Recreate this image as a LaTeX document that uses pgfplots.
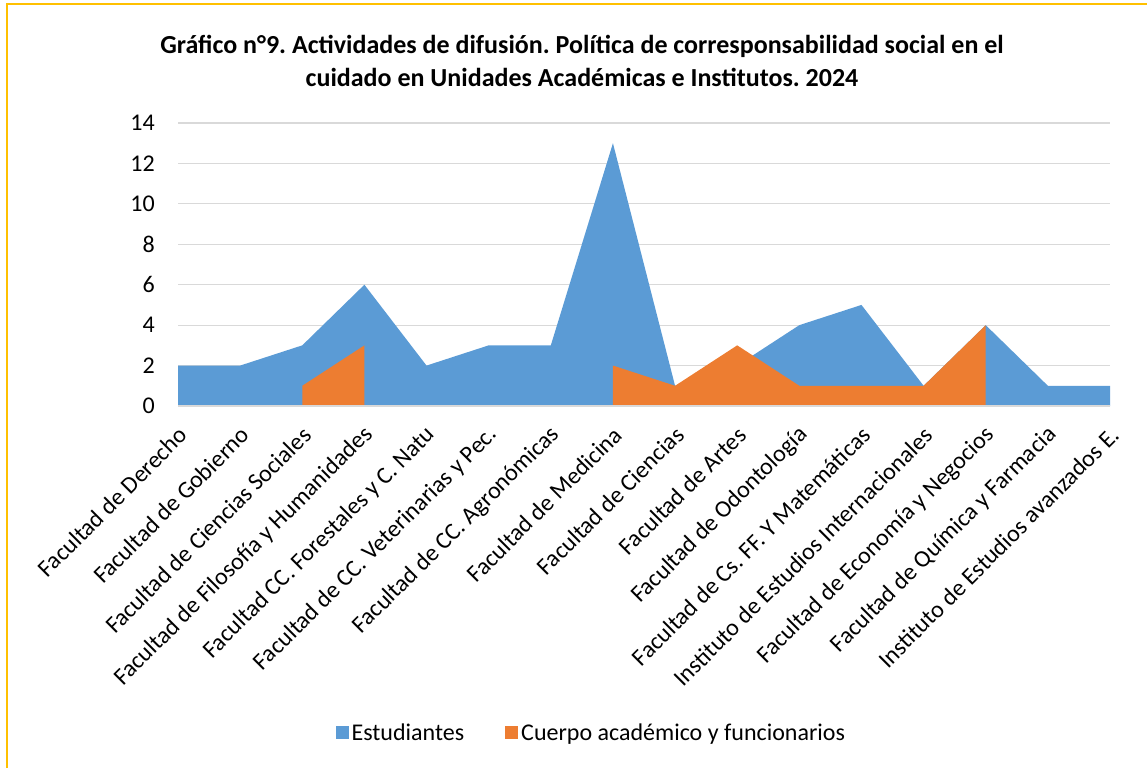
\documentclass[border=0pt]{standalone}
\usepackage{pgfplots}
\pgfplotsset{compat=1.18}
\usepackage{fontspec}
\setmainfont{Carlito}
\frenchspacing
\definecolor{estud}{HTML}{5B9BD5}
\definecolor{cuerpo}{HTML}{ED7D31}
\definecolor{gridgray}{HTML}{D9D9D9}
\definecolor{marco}{HTML}{FFC000}

\begin{document}
\begin{tikzpicture}
\useasboundingbox (0,0) rectangle (1147pt,768pt);
\draw[marco, line width=2.5pt] (7pt,0) -- (7pt,764pt) -- (1147pt,764pt);

\node[align=center, font=\fontsize{26}{33}\selectfont\bfseries] at (582pt,707pt)
  {Gráfico n°9. Actividades de difusión. Política de corresponsabilidad social en el\\
   cuidado en Unidades Académicas e Institutos. 2024};

\begin{axis}[
    at={(178pt,362pt)}, anchor=south west,
    scale only axis, width=932pt, height=283pt,
    xmin=0, xmax=15, ymin=0, ymax=14,
    xtick={0,...,15}, ytick={0,2,...,14},
    xticklabels={Facultad de Derecho, Facultad de Gobierno, Facultad de Ciencias Sociales,
        Facultad de Filosofía y Humanidades, Facultad CC. Forestales y C. Natu,
        Facultad de CC. Veterinarias  y Pec., Facultad de CC. Agronómicas,
        Facultad de Medicina, Facultad de Ciencias, Facultad de Artes,
        Facultad de Odontología, Facultad de Cs. FF. Y Matemáticas,
        Instituto de Estudios Internacionales, Facultad de Economía y Negocios,
        Facultad de Química y Farmacia, Instituto de Estudios avanzados E.},
    major tick length=0pt,
    axis line style={draw=none},
    ymajorgrids, grid style={gridgray, line width=1.2pt},
    tick label style={font=\fontsize{24}{28}\selectfont},
    /pgf/number format/assume math mode=true,
    yticklabel style={anchor=east, inner sep=0pt, xshift=-23pt},
    xticklabel style={inner sep=0pt, xshift=5pt, yshift=-25pt, rotate=45, anchor=east},
    legend columns=2,
    legend style={at={(0.444,-1.155)}, anchor=center, draw=none, fill=none,
        font=\fontsize{24}{28}\selectfont,
        /tikz/every even column/.append style={column sep=38pt},
        nodes={inner sep=3pt}},
    legend image code/.code={\fill[draw=none] (0pt,-6.5pt) rectangle (13pt,6.5pt);},
]
\addplot[fill=estud, draw=none] coordinates {
    (0,2) (1,2) (2,3) (3,6) (4,2) (5,3) (6,3) (7,13)
    (8,1) (9,2) (10,4) (11,5) (12,1) (13,4) (14,1) (15,1)} \closedcycle;
\addlegendentry{Estudiantes}
\addplot[fill=cuerpo, draw=none] coordinates {(2,1) (3,3)} \closedcycle;
\addlegendentry{Cuerpo académico y funcionarios}
\addplot[fill=cuerpo, draw=none, forget plot] coordinates {
    (7,2) (8,1) (9,3) (10,1) (11,1) (12,1) (13,4)} \closedcycle;
\draw[gridgray, line width=1.2pt] (axis cs:0,0) -- (axis cs:15,0);
\end{axis}
\end{tikzpicture}
\end{document}
